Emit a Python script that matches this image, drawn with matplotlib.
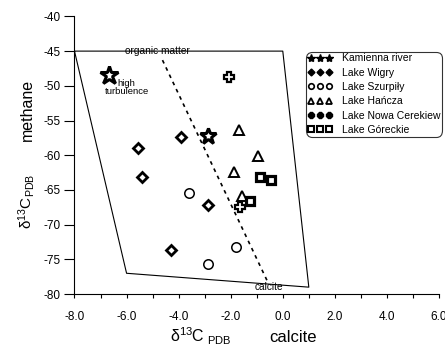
import matplotlib
matplotlib.use("Agg")
import matplotlib.pyplot as plt
from matplotlib.lines import Line2D
from matplotlib.ticker import MultipleLocator, FormatStrFormatter

plt.rcParams["font.family"] = ["Liberation Sans", "DejaVu Sans"]

# --- data ---------------------------------------------------------------
kamienna_x = [-6.66, -2.89]
kamienna_y = [-48.4, -57.2]
wigry_x = [-5.57, -3.92, -5.42, -2.89, -4.29]
wigry_y = [-58.9, -57.3, -63.1, -67.2, -73.6]
szurpily_x = [-3.62, -2.89, -1.79]
szurpily_y = [-65.5, -75.6, -73.2]
hancza_x = [-1.70, -0.97, -1.89, -1.55]
hancza_y = [-56.4, -60.1, -62.4, -65.9]
nowa_x = [-2.08, -1.66]
nowa_y = [-48.8, -67.4]
gorecki_x = [-0.89, -0.45, -1.25]
gorecki_y = [-63.2, -63.6, -66.6]

field_x = [-8.0, 0.0, 1.0, -6.0, -8.0]
field_y = [-45.0, -45.0, -79.0, -77.0, -45.0]
divide_x = [-4.62, -0.61]
divide_y = [-46.3, -78.0]

labels = ["Kamienna river", "Lake Wigry", "Lake Szurpi\u0142y",
          "Lake Ha\u0144cza", "Lake Nowa Cerekiew", "Lake G\u00f3reckie"]

fig = plt.figure(figsize=(4.45, 3.46), dpi=100)
ax = fig.add_axes([0.1674, 0.150, 0.8191, 0.8026])

ax.plot(field_x, field_y, color="black", lw=0.8)
ax.plot(divide_x, divide_y, color="black", lw=1.2, linestyle=(0, (2.2, 2.6)))

common = dict(linestyle="none", color="black", mfc="white", mec="black")
# first star is larger
ax.plot(kamienna_x[:1], kamienna_y[:1], marker="*", ms=13.5, mew=2.2, **common)
ax.plot(kamienna_x[1:], kamienna_y[1:], marker="*", ms=12, mew=2.2, **common)
ax.plot(wigry_x, wigry_y, marker="D", ms=5, mew=2.0, **common)
ax.plot(szurpily_x, szurpily_y, marker="o", ms=6.8, mew=1.1, **common)
ax.plot(hancza_x, hancza_y, marker="^", ms=7, mew=1.4, **common)
ax.plot(nowa_x, nowa_y, marker="P", ms=6.8, mew=1.6, **common)
ax.plot(gorecki_x, gorecki_y, marker="s", ms=5.2, mew=2.3, **common)

ax.text(-4.8, -45, "organic matter", fontsize=7.3, ha="center", va="center")
ax.text(-0.52, -79.0, "calcite", fontsize=7.3, ha="center", va="center")
ax.text(-6.0, -50.2, "high\nturbulence", fontsize=6.8, ha="center", va="center",
        linespacing=0.8)

ax.set_xlim(-8, 6)
ax.set_ylim(-80, -40)
ax.xaxis.set_major_locator(MultipleLocator(2))
ax.xaxis.set_minor_locator(MultipleLocator(1))
ax.xaxis.set_major_formatter(FormatStrFormatter("%.1f"))
ax.yaxis.set_major_locator(MultipleLocator(5))
ax.yaxis.set_major_formatter(FormatStrFormatter("%d"))
ax.tick_params(axis="x", which="both", direction="out", length=3, width=0.8,
               labelsize=8.5, pad=9)
ax.tick_params(axis="y", which="major", direction="out", length=7, width=0.8,
               labelsize=8.5, pad=3)
for side in ("top", "right"):
    ax.spines[side].set_visible(False)
for side in ("left", "bottom"):
    ax.spines[side].set_linewidth(0.8)

# legend with small markers
handles = [
    Line2D([], [], marker="*", ms=6, color="black", linestyle="none"),
    Line2D([], [], marker="D", ms=3.5, color="black", linestyle="none"),
    Line2D([], [], marker="o", ms=4, mfc="white", mec="black", mew=1.2,
           linestyle="none"),
    Line2D([], [], marker="^", ms=4.5, mfc="white", mec="black", mew=1.3,
           linestyle="none"),
    Line2D([], [], marker="8", ms=4.5, color="black", linestyle="none"),
    Line2D([], [], marker="s", ms=4, mfc="white", mec="black", mew=1.5,
           linestyle="none"),
]
leg = fig.legend(handles, labels, loc="upper left",
                 bbox_to_anchor=(306 / 445, 1 - 51.7 / 346), borderaxespad=0,
                 numpoints=3, fontsize=7.5, handlelength=2.4, handletextpad=0.9,
                 labelspacing=0.42, borderpad=0.15, fancybox=True, frameon=True)
leg.get_frame().set_edgecolor("black")
leg.get_frame().set_linewidth(0.8)
leg.get_frame().set_boxstyle("round", pad=0.0, rounding_size=0.6)

# axis labels
fig.text(27 / 445, 1 - 110 / 346, "methane", rotation=90, fontsize=11.5,
         ha="center", va="center")
fig.text(27 / 445, 1 - 201 / 346, r"$\mathregular{\delta^{13}C_{PDB}}$",
         rotation=90, fontsize=11, ha="center", va="center")
fig.text(201 / 445, 1 - 336 / 346, r"$\mathregular{\delta^{13}C_{\ PDB}}$",
         fontsize=11.5, ha="center", va="center")
fig.text(293 / 445, 1 - 337 / 346, "calcite", fontsize=12, ha="center",
         va="center")

fig.savefig("out.png", dpi=100)
